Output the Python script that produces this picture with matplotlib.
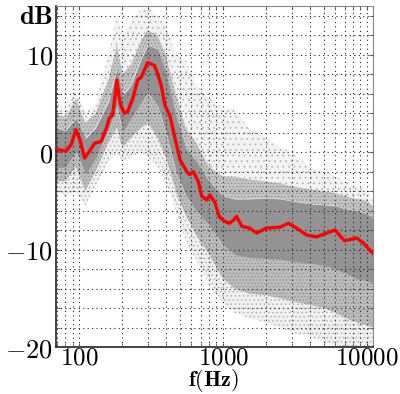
import matplotlib
matplotlib.use('Agg')
import matplotlib.pyplot as plt
from matplotlib.ticker import FixedLocator, FuncFormatter, LogLocator, MultipleLocator

plt.rcParams['mathtext.fontset'] = 'cm'
plt.rcParams['hatch.linewidth'] = 0.5

# mean response (red)
f_mean = [69, 75, 81, 88, 95, 101, 109, 118, 128, 142, 155, 162, 171, 183, 190, 196,
          206, 218, 236, 255, 270, 300, 333, 346, 371, 395, 428, 464, 503, 560, 588,
          621, 673, 710, 770, 810, 880, 940, 1000, 1105, 1180, 1240, 1350, 1530, 1710,
          2000, 2490, 2840, 3250, 3800, 4470, 5260, 6000, 7000, 8470, 9400, 10700, 11025]
db_mean = [0.3, 0.2, 0.1, 0.8, 2.3, 1.3, -0.6, 0.1, 0.9, 1.1, 2.5, 3.5, 3.8, 7.4, 5.5, 4.7,
           4.0, 4.2, 5.5, 7.4, 7.7, 9.2, 8.9, 8.3, 6.9, 4.8, 3.7, 1.4, -0.8, -2.0, -2.3,
           -2.0, -3.0, -4.5, -4.9, -4.4, -5.2, -6.6, -7.0, -7.3, -7.0, -6.6, -7.6, -7.8, -8.3,
           -7.8, -7.7, -7.3, -7.8, -8.5, -8.7, -8.3, -8.0, -9.1, -8.8, -9.3, -10.2, -10.4]

# spread of the individual measurements (grey)
f_grid = [69, 80, 95, 110, 130, 160, 183, 200, 230, 270, 300, 350, 400, 470, 550, 650,
          800, 1000, 1200, 1500, 2000, 2500, 3000, 4000, 5000, 6000, 7000, 8500, 10000, 11025]
core_hi = [2.5, 2.2, 3.5, 1.4, 2.5, 5.2, 8.6, 5.8, 6.9, 9.6, 11.0, 10.6, 8.3, 3.8, 0.4, -0.9,
           -3.0, -4.5, -4.8, -4.8, -4.7, -4.8, -5.0, -5.3, -5.4, -5.5, -5.8, -6.0, -6.3, -6.8]
core_lo = [-1.6, -1.5, 0.1, -2.3, -0.6, 2.5, 4.8, 2.1, 3.5, 5.2, 6.2, 4.8, 2.1, -2.0, -4.4, -6.0,
           -7.5, -9.5, -10.5, -10.8, -10.9, -11.0, -11.2, -11.4, -11.6, -12.0, -12.4, -13.0, -13.2, -13.5]
mid_hi = [4, 3.5, 5.5, 3, 4, 7.5, 11, 8, 9, 11.5, 12.5, 12, 10, 6, 2.5, 1,
          -1.5, -2.5, -2.5, -2.8, -3, -3.2, -3.5, -3.8, -4.0, -4.2, -4.5, -4.8, -5.0, -5.5]
mid_lo = [-3, -3, -1.5, -4, -2, 1, 2.5, 0.5, 1.5, 2.5, 3, 1.5, -0.5, -4, -6.5, -8.5,
          -10.5, -13, -14, -14.5, -14.7, -15, -15.3, -15.7, -16, -16.5, -17, -17.5, -17.8, -18]
out_hi = [5, 4.5, 6.5, 4, 5, 10, 14, 12, 13.5, 14.7, 14.8, 14, 13, 10, 9.5, 7,
          5.5, 4.5, 4.5, 2.5, 1.5, 0.5, 0, -1.5, -2.0, -2.4, -3, -3.5, -4, -5]
out_lo = [-4, -4.5, -4, -5.5, -3.5, -1, 0, -1, -0.5, 0, -0.5, -1.5, -3, -6, -9, -11,
          -13.5, -15.5, -16.5, -17, -17.5, -18, -18.5, -19, -19.5, -19.8, -20, -20, -20, -20]

fig = plt.figure(figsize=(4.0, 3.94), dpi=100)
ax = fig.add_axes([56/400, 47/394, 317/400, 341/394])

grey = '#8c8c8c'
ax.fill_between(f_grid, out_lo, mid_lo, facecolor='#f0f0f0', edgecolor='#a8a8a8', hatch='....', lw=0)
ax.fill_between(f_grid, mid_hi, out_hi, facecolor='#f3f3f3', edgecolor='#b0b0b0', hatch='...', lw=0)
ax.fill_between(f_grid, mid_lo, core_lo, facecolor='#bdbdbd', edgecolor=grey, hatch='.....', lw=0)
ax.fill_between(f_grid, core_hi, mid_hi, facecolor='#c4c4c4', edgecolor=grey, hatch='.....', lw=0)
ax.fill_between(f_grid, core_lo, core_hi, color='#939393', lw=0)

ax.plot(f_mean, db_mean, color='red', lw=2.4, zorder=5)

ax.set_xscale('log')
ax.set_xlim(69, 11025)
ax.set_ylim(-20, 15)

ax.xaxis.set_major_locator(FixedLocator([100, 1000, 10000]))
ax.xaxis.set_minor_locator(LogLocator(base=10, subs=range(2, 10), numticks=20))
ax.xaxis.set_minor_formatter(FuncFormatter(lambda v, p: ''))
ax.xaxis.set_major_formatter(FuncFormatter(lambda v, p: r'$\mathbf{%d}$' % round(v)))
ax.yaxis.set_major_locator(MultipleLocator(10))
ax.yaxis.set_minor_locator(MultipleLocator(2))
ax.yaxis.set_major_formatter(FuncFormatter(lambda v, p: r'$\mathbf{%d}$' % round(v)))

ax.grid(True, which='both', ls=(0, (1, 3)), color='#222222', lw=0.8)
ax.set_axisbelow(False)
ax.tick_params(which='both', direction='in', top=True, right=True, labelsize=19, length=3, color='#555555')
ax.tick_params(axis='x', pad=-1, labelsize=18)
ax.tick_params(axis='y', pad=2)

for s in ['left', 'bottom']:
    ax.spines[s].set_color('#222222')
    ax.spines[s].set_linewidth(1.2)
for s in ['top', 'right']:
    ax.spines[s].set_color('#888888')

fig.text(36/400, 1 - 17/394, r'$\mathbf{dB}$', fontsize=19, ha='center', va='center')
fig.text(214/400, 1 - 386/394, r'$\mathbf{f(Hz)}$', fontsize=16, ha='center', va='baseline')

fig.savefig('out.png', dpi=100)
